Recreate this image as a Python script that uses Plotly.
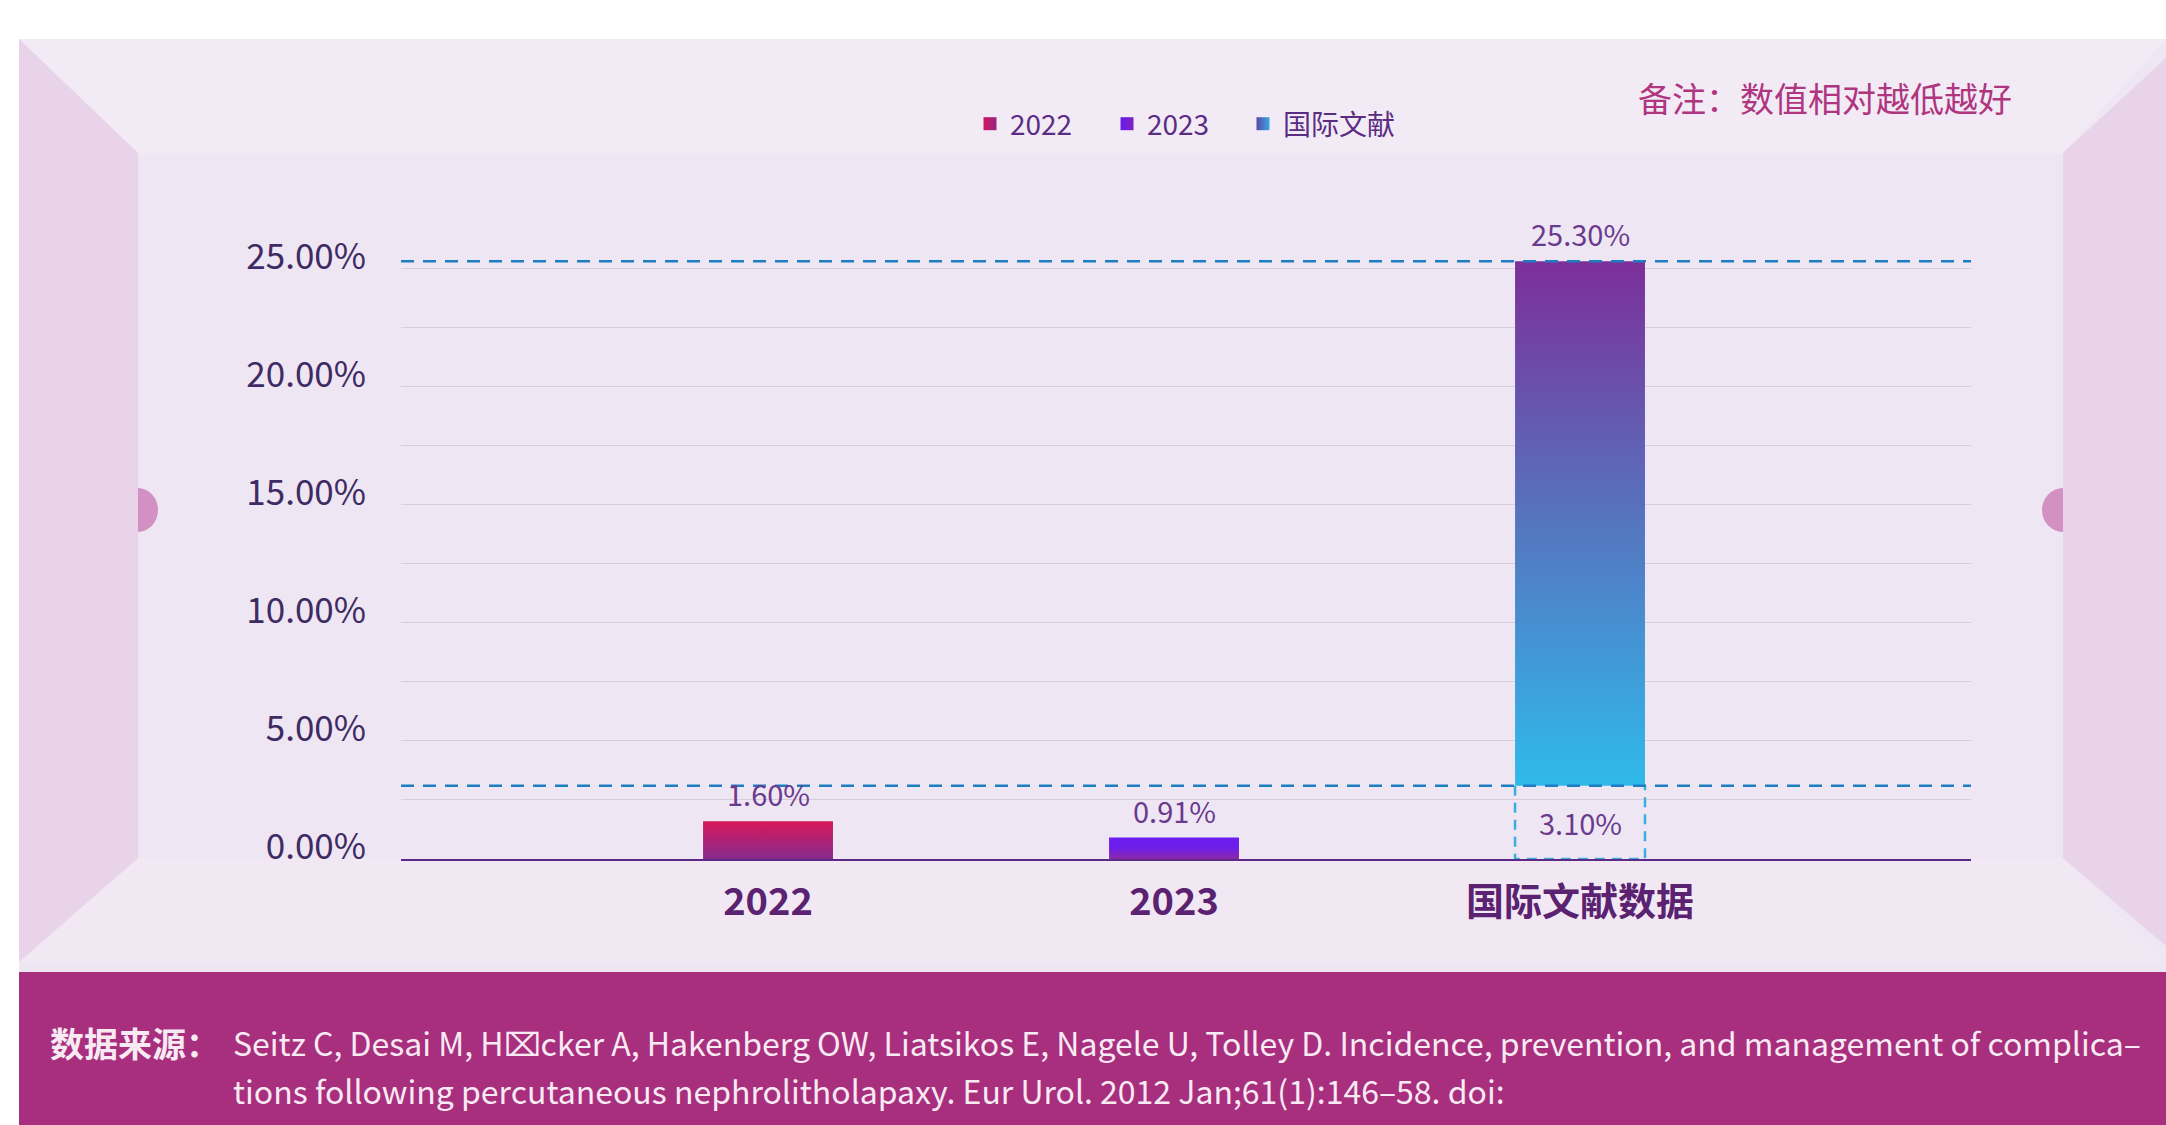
import plotly.graph_objects as go

# ---- data ----
categories = ["2022", "2023", "国际文献数据"]
bar_tops = [1.60, 0.91, 25.30]
bar_bases = [0.0, 0.0, 3.10]
top_labels = ["1.60%", "0.91%", "25.30%"]
base_labels = ["", "", "3.10%"]
legend_names = ["2022", "2023", "国际文献"]
y_tick_vals = [0, 5, 10, 15, 20, 25]
y_tick_text = ["0.00%", "5.00%", "10.00%", "15.00%", "20.00%", "25.00%"]
reference_lines = [3.10, 25.30]
note_text = "备注：数值相对越低越好"
source_title = "数据来源："
source_lines = [
    "Seitz C, Desai M, H\u2327cker A, Hakenberg OW, Liatsikos E, Nagele U, Tolley D. Incidence, prevention, and management of complica\u2013",
    "tions following percutaneous nephrolitholapaxy. Eur Urol. 2012 Jan;61(1):146\u201358. doi:",
]

# ---- styling ----
W, H = 2166, 1125
L, R, T, B = 401, 195, 221, 266
PW, PH = W - L - R, H - T - B
FONT = "Noto Sans CJK SC"
bar_width = 0.32
bar_scales = [
    [[0, "#862A8E"], [1, "#D8195A"]],
    [[0, "#8A2AA6"], [0.5, "#6E1EE8"], [1, "#6A1CF0"]],
    [[0, "#2FBAEA"], [0.5, "#5575C0"], [1, "#7C2F98"]],
]
legend_colors = [("#CE165C", "#9A2484"), ("#6A1CE8", "#7B22C4"), ("#5C48A6", "#36A8E4")]
legend_swatch_px = [992, 1129, 1265]   # swatch centres along the top row


def fx(px):
    return (px - L) / PW


def fy(py):
    return (H - B - py) / PH


fig = go.Figure()

# bars as gradient-filled rectangles on the numeric category axis
for i, (lo, hi) in enumerate(zip(bar_bases, bar_tops)):
    x0, x1 = i - bar_width / 2, i + bar_width / 2
    fig.add_trace(go.Scatter(
        x=[x0, x1, x1, x0, x0], y=[lo, lo, hi, hi, lo],
        mode="lines", fill="toself", line=dict(width=0),
        fillgradient=dict(type="vertical", colorscale=bar_scales[i]),
        showlegend=False, hoverinfo="skip",
    ))
    if lo > 0:
        # dashed outline marking the part below the floating bar
        fig.add_trace(go.Scatter(
            x=[x0, x0, x1, x1], y=[lo, 0, 0, lo],
            mode="lines", line=dict(color="#3AAEE0", width=2.5, dash="10px,7px"),
            showlegend=False, hoverinfo="skip",
        ))

# legend swatches, one legend box per entry so each sits at its own spot
legend_layout = {}
for k, (name, (c1, c2)) in enumerate(zip(legend_names, legend_colors)):
    key = "legend" if k == 0 else f"legend{k + 1}"
    fig.add_trace(go.Scatter(
        x=[None], y=[None], mode="markers", name=name, legend=key,
        marker=dict(symbol="square", size=13, color=c1,
                    gradient=dict(type="horizontal", color=c2)),
    ))
    legend_layout[key] = dict(
        orientation="h", x=fx(legend_swatch_px[k] - 22), y=fy(124),
        xanchor="left", yanchor="middle",
        font=dict(family=FONT, size=28, color="#5A2D82"),
        bgcolor="rgba(0,0,0,0)", itemwidth=30,
    )

# reference lines
for v in reference_lines:
    fig.add_trace(go.Scatter(
        x=[-0.904, 2.963], y=[v, v], mode="lines",
        line=dict(color="#1F7EC2", width=2.5, dash="13px,9px"),
        showlegend=False, hoverinfo="skip",
    ))

annotations = []
for i, (hi, lab) in enumerate(zip(bar_tops, top_labels)):
    annotations.append(dict(
        x=i, y=hi, xref="x", yref="y", text=lab, showarrow=False,
        yanchor="bottom", yshift=5,
        font=dict(family=FONT, size=29, color="#6A3A8E"),
    ))
for i, (lo, lab) in enumerate(zip(bar_bases, base_labels)):
    if lab:
        annotations.append(dict(
            x=i, y=lo / 2, xref="x", yref="y", text=lab, showarrow=False,
            font=dict(family=FONT, size=29, color="#6A3A8E"),
        ))

annotations.append(dict(
    x=fx(2014), y=fy(97), xref="paper", yref="paper", text=note_text,
    showarrow=False, xanchor="right", yanchor="middle",
    font=dict(family=FONT, size=34, color="#B0357F"),
))
annotations.append(dict(
    x=fx(48), y=fy(1042), xref="paper", yref="paper", text="<b>" + source_title + "</b>",
    showarrow=False, xanchor="left", yanchor="middle",
    font=dict(family=FONT, size=34, color="#F8EAF3"),
))
for k, line in enumerate(source_lines):
    annotations.append(dict(
        x=fx(231), y=fy(1042 + 48 * k), xref="paper", yref="paper", text=line,
        showarrow=False, xanchor="left", yanchor="middle",
        font=dict(family=FONT, size=32, color="#F8EAF3"),
    ))


def poly(pts, color):
    path = "M " + " L ".join(f"{fx(x)},{fy(y)}" for x, y in pts) + " Z"
    return dict(type="path", xref="paper", yref="paper", path=path,
                fillcolor=color, line=dict(width=0), layer="below")


shapes = [
    dict(type="rect", xref="paper", yref="paper", x0=fx(19), x1=fx(W), y0=fy(972), y1=fy(39),
         fillcolor="#EFE6F3", line=dict(width=0), layer="below"),
    poly([(19, 39), (W, 39), (2063, 153), (138, 153)], "#F2EBF6"),
    poly([(138, 858), (2063, 858), (W, 962), (19, 962)], "#F1E8F4"),
    dict(type="circle", xref="paper", yref="paper", x0=fx(118), x1=fx(158), y0=fy(532), y1=fy(488),
         fillcolor="#D390C3", line=dict(width=0), layer="below"),
    dict(type="circle", xref="paper", yref="paper", x0=fx(2042), x1=fx(2084), y0=fy(532), y1=fy(488),
         fillcolor="#D390C3", line=dict(width=0), layer="below"),
    poly([(19, 39), (138, 153), (138, 858), (19, 962)], "#E8D3E8"),
    poly([(W, 58), (2063, 153), (2063, 858), (W, 946)], "#E8D3E8"),
    dict(type="rect", xref="paper", yref="paper", x0=fx(19), x1=fx(W), y0=fy(H), y1=fy(972),
         fillcolor="#A82E7E", line=dict(width=0), layer="below"),
]

fig.update_layout(
    width=W, height=H,
    margin=dict(l=L, r=R, t=T, b=B, pad=0),
    paper_bgcolor="#FFFFFF", plot_bgcolor="rgba(0,0,0,0)",
    shapes=shapes, annotations=annotations,
    showlegend=True,
    xaxis=dict(
        range=[-0.904, 2.963], tickmode="array", tickvals=list(range(len(categories))),
        ticktext=["<b>" + c + "</b>" for c in categories],
        showgrid=False, zeroline=False, showline=True, linecolor="#5B2A86", linewidth=2,
        ticks="", ticklabelstandoff=8,
        tickfont=dict(family=FONT, size=38, color="#5A2270"),
    ),
    yaxis=dict(
        range=[0, 27], tickmode="array", tickvals=y_tick_vals, ticktext=y_tick_text,
        showgrid=True, gridcolor="#DCCBDB", gridwidth=1, zeroline=False, showline=False,
        ticks="", ticklabelstandoff=34, ticklabelshift=-12,
        minor=dict(tickmode="linear", tick0=0, dtick=2.5, showgrid=True,
                   gridcolor="#DCCBDB", gridwidth=1, ticks=""),
        tickfont=dict(family=FONT, size=35, color="#3F2B63"),
    ),
    **legend_layout,
)

fig.write_html("out.html")
